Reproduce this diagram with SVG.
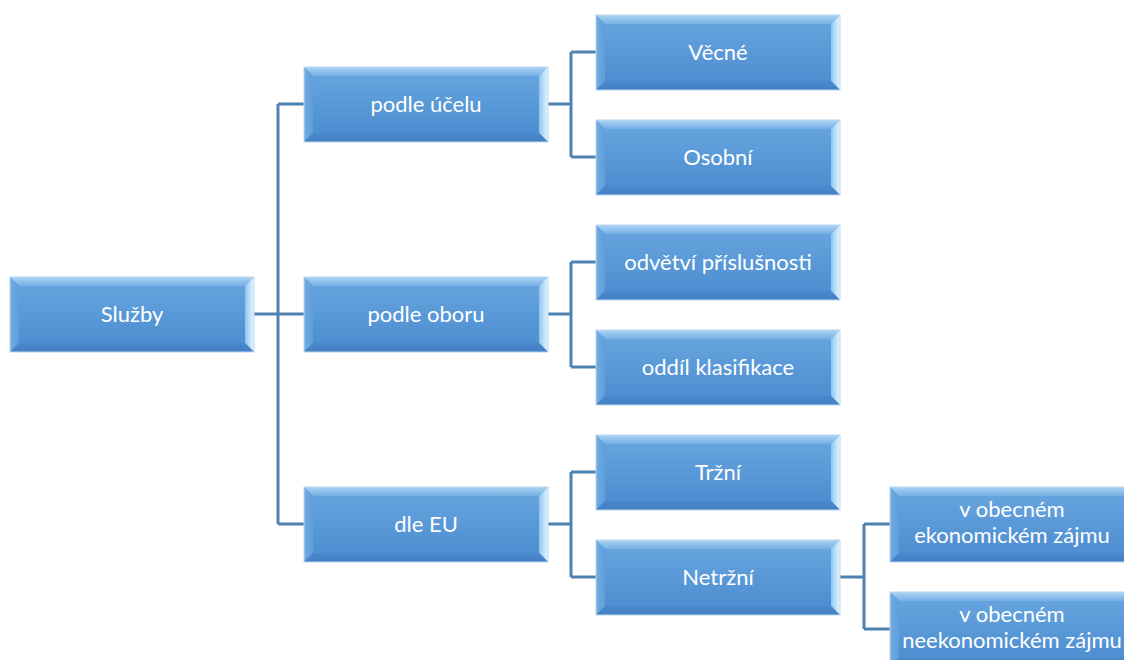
<svg xmlns="http://www.w3.org/2000/svg" width="1124" height="660" viewBox="0 0 1124 660">
<defs>
<linearGradient id="gMain" x1="0" y1="0" x2="0" y2="1">
<stop offset="0" stop-color="#69a7e0"/>
<stop offset="1" stop-color="#4a8bcf"/>
</linearGradient>
<linearGradient id="gTop" x1="0" y1="0" x2="0" y2="1">
<stop offset="0" stop-color="#acd4f3"/>
<stop offset="1" stop-color="#74afe4"/>
</linearGradient>
<linearGradient id="gLeft" x1="0" y1="0" x2="1" y2="0">
<stop offset="0" stop-color="#72ace1"/>
<stop offset="1" stop-color="#5e9edb"/>
</linearGradient>
<linearGradient id="gRight" x1="0" y1="0" x2="1" y2="0">
<stop offset="0" stop-color="#8cc6f0"/>
<stop offset="1" stop-color="#e8f6ff"/>
</linearGradient>
<linearGradient id="gBottom" x1="0" y1="0" x2="0" y2="1">
<stop offset="0" stop-color="#4a89cc"/>
<stop offset="1" stop-color="#4380c3"/>
</linearGradient>
<g id="box">
<rect x="0" y="0" width="244" height="75" fill="url(#gMain)"/>
<polygon points="0,0 244,0 235,9 9,9" fill="url(#gTop)"/>
<polygon points="0,0 9,9 9,66 0,75" fill="url(#gLeft)"/>
<polygon points="244,0 244,75 235,66 235,9" fill="url(#gRight)"/>
<polygon points="0,75 9,66 235,66 244,75" fill="url(#gBottom)"/>
<rect x="0" y="0" width="244" height="75" fill="none" stroke="#b9d8f0" stroke-width="1"/>
</g>
</defs>
<style>
.lbl{font-family:Lato,"Liberation Sans",sans-serif;font-size:22px;fill:#ffffff;text-anchor:middle}
.con{fill:none;stroke:#4f82b0;stroke-width:3}
</style>
<rect width="1124" height="660" fill="#ffffff"/>
<g id="connectors">
<path class="con" d="M254,314 H278 M278,104 V524 M278,104 H304 M278,314 H304 M278,524 H304"/>
<path class="con" d="M547,104 H571 M571,52 V157 M571,52 H596 M571,157 H596"/>
<path class="con" d="M547,314 H571 M571,262 V367 M571,262 H596 M571,367 H596"/>
<path class="con" d="M547,524 H571 M571,472 V577 M571,472 H596 M571,577 H596"/>
<path class="con" d="M840,577 H864 M864,524 V629 M864,524 H890 M864,629 H890"/>
</g>
<g id="sluzby" transform="translate(10,277)"><use href="#box"/><text class="lbl" x="122" y="45">Služby</text></g>
<g id="podle-ucelu" transform="translate(304,67)"><use href="#box"/><text class="lbl" x="122" y="45">podle účelu</text></g>
<g id="podle-oboru" transform="translate(304,277)"><use href="#box"/><text class="lbl" x="122" y="45">podle oboru</text></g>
<g id="dle-eu" transform="translate(304,487)"><use href="#box"/><text class="lbl" x="122" y="45">dle EU</text></g>
<g id="vecne" transform="translate(596,15)"><use href="#box"/><text class="lbl" x="122" y="45">Věcné</text></g>
<g id="osobni" transform="translate(596,120)"><use href="#box"/><text class="lbl" x="122" y="45">Osobní</text></g>
<g id="odvetvi" transform="translate(596,225)"><use href="#box"/><text class="lbl" x="122" y="45">odvětví příslušnosti</text></g>
<g id="oddil" transform="translate(596,330)"><use href="#box"/><text class="lbl" x="122" y="45">oddíl klasifikace</text></g>
<g id="trzni" transform="translate(596,435)"><use href="#box"/><text class="lbl" x="122" y="45">Tržní</text></g>
<g id="netrzni" transform="translate(596,540)"><use href="#box"/><text class="lbl" x="122" y="45">Netržní</text></g>
<g id="ekonomicky" transform="translate(890,487)"><use href="#box"/><text class="lbl" x="122" y="30">v obecném</text><text class="lbl" x="122" y="56">ekonomickém zájmu</text></g>
<g id="neekonomicky" transform="translate(890,592)"><use href="#box"/><text class="lbl" x="122" y="30">v obecném</text><text class="lbl" x="122" y="56">neekonomickém zájmu</text></g>
</svg>
